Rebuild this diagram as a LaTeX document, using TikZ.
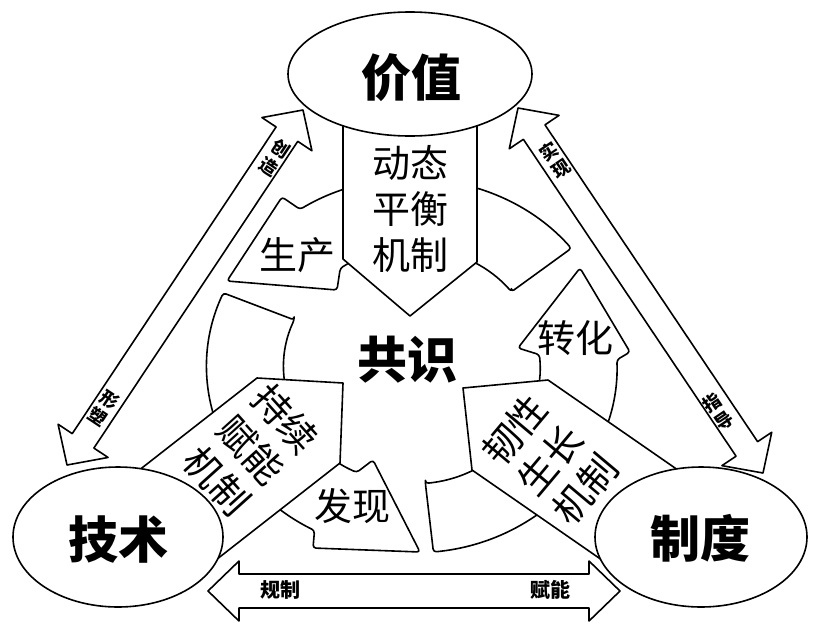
\documentclass[tikz,border=0pt]{standalone}
\usepackage{fontspec}
\newfontfamily\cjk{Noto Sans CJK SC}
\usetikzlibrary{shapes.geometric,calc}
\tikzset{
  ol/.style={draw=black, line width=1.6pt, fill=white, line join=round},
  ringarrow/.style={ol, rounded corners=3pt},
  bigtext/.style={font={\cjk\bfseries\fontsize{50}{50}\selectfont}, inner sep=0pt},
  midtext/.style={font={\cjk\fontsize{38}{46}\selectfont}, inner sep=0pt, align=center},
  smalltext/.style={font={\cjk\bfseries\fontsize{18}{21}\selectfont}, inner sep=0pt, align=center},
  barlabel/.style={font={\cjk\bfseries\fontsize{20}{20}\selectfont}, inner sep=0pt},
  oval/.style={ol, ellipse, inner sep=0pt},
}
% double-headed block arrow between two named tips:
% #1 tip A, #2 tip B, #3 shaft half width, #4 head half width, #5 head length
\newcommand{\dblarr}[5]{%
  \path ($(#1)!#5!(#2)$) coordinate (#1-b) ($(#2)!#5!(#1)$) coordinate (#2-b);
  \draw[ol] (#1) -- ($(#1-b)!#4!90:(#2)$) -- ($(#1-b)!#3!90:(#2)$)
    -- ($(#2-b)!#3!90:(#2)$) -- ($(#2-b)!#4!90:(#2)$) -- (#2)
    -- ($(#2-b)!#4!-90:(#2)$) -- ($(#2-b)!#3!-90:(#2)$)
    -- ($(#1-b)!#3!-90:(#2)$) -- ($(#1-b)!#4!-90:(#2)$) -- cycle;}
\begin{document}
\begin{tikzpicture}[x=1pt,y=1pt]
\useasboundingbox (0,0) rectangle (813,-624);

% ---- ring of three curved arrows (centre 412,-366) ----
% zhuanhua (right, pointing up)
\draw[ringarrow] ({412+128*cos(-84)},{-366+118*sin(-84)})
  -- ({412+205*cos(-84)},{-366+187*sin(-84)})
  arc[start angle=-84, end angle=1.9, x radius=205pt, y radius=187pt]
  -- (630,-352) -- (580,-268) -- (518,-348)
  -- ({412+128*cos(5.5)},{-366+118*sin(5.5)})
  arc[start angle=5.5, end angle=-84, x radius=128pt, y radius=118pt] -- cycle;
% shengchan (top, pointing left)
\draw[ringarrow] ({412+128*cos(39)},{-366+118*sin(39)})
  -- ({412+205*cos(39)},{-366+187*sin(39)})
  arc[start angle=39, end angle=123.1, x radius=205pt, y radius=187pt]
  -- (282,-197) -- (227,-281) -- (337,-290)
  -- ({412+128*cos(124.1)},{-366+118*sin(124.1)})
  arc[start angle=124.1, end angle=39, x radius=128pt, y radius=118pt] -- cycle;
% faxian (left/bottom, pointing right)
\draw[ringarrow] ({412+128*cos(157)},{-366+118*sin(157)})
  -- ({412+205*cos(157)},{-366+187*sin(157)})
  arc[start angle=157, end angle=241.6, x radius=205pt, y radius=187pt]
  -- (313,-548) -- (420,-552) -- (373,-460)
  -- ({412+128*cos(244.4)},{-366+118*sin(244.4)})
  arc[start angle=244.4, end angle=157, x radius=128pt, y radius=118pt] -- cycle;

% ---- three pentagon arrows ----
\draw[ol] (343,-100) -- (343,-259) -- (410,-316) -- (477,-262) -- (477,-100) -- cycle;
\draw[ol] (343,-383) -- (257,-378) -- (115,-489) -- (198,-574) -- (340,-463) -- cycle;
\draw[ol] (463,-388) -- (548,-380) -- (688,-477) -- (612,-567) -- (472,-470) -- cycle;

% ---- ellipses ----
\node[oval, minimum width=244pt, minimum height=124pt] (jiazhi) at (410,-74) {};
\node[oval, minimum width=210pt, minimum height=140pt] (jishu) at (118,-537) {};
\node[oval, minimum width=212pt, minimum height=140pt] (zhidu) at (701,-537) {};

% ---- double arrows ----
\coordinate (lt) at (303,-110);
\coordinate (lb) at (67,-465);
\coordinate (rt) at (518,-108);
\coordinate (rb) at (763,-473);
\coordinate (bl) at (208,-591);
\coordinate (br) at (620,-591);
\dblarr{lt}{lb}{13pt}{30pt}{29pt}
\dblarr{rt}{rb}{13pt}{30pt}{29pt}
\dblarr{bl}{br}{17pt}{30pt}{31pt}

% ---- texts ----
\node[bigtext] (tjiazhi) at (411,-78) {价值};
\node[bigtext] (tgongshi) at (407,-360) {共识};
\node[bigtext] (tjishu) at (118,-540) {技术};
\node[bigtext] (tzhidu) at (700,-538) {制度};

\node[midtext] (tdongtai) at (410,-209) {动态\\平衡\\机制};
\node[midtext, rotate=-48] (tchixu) at (251,-450) {持续\\赋能\\机制};
\node[midtext, rotate=50] (trenxing) at (550,-460) {韧性\\生长\\机制};

\node[midtext] (tsheng) at (297,-255) {生产};
\node[midtext] (tzhuan) at (575,-338) {转化};
\node[midtext] (tfa) at (352,-506) {发现};

\node[smalltext, rotate=-33.6] (tchuang) at (275,-158) {创\\造};
\node[smalltext, rotate=-33.6] (txing) at (104,-408) {形\\塑};
\node[smalltext, rotate=33.9] (tshi) at (555,-160) {实\\现};
\node[smalltext, rotate=33.9] (tzhi) at (718,-412) {指\\导};
\node[barlabel] (tguizhi) at (280,-590) {规制};
\node[barlabel] (tfuneng) at (550,-590) {赋能};
\end{tikzpicture}
\end{document}
